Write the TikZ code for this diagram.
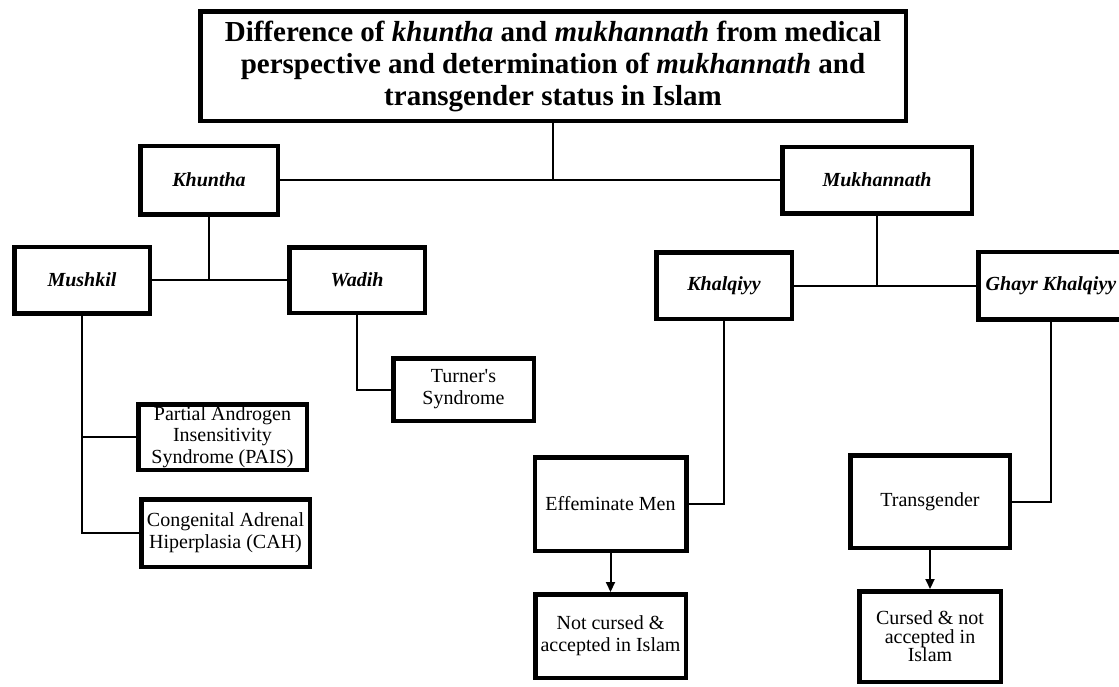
\documentclass[tikz,border=0pt]{standalone}
\usepackage{fontspec}
\setmainfont{Liberation Serif}
\usetikzlibrary{shadows,arrows.meta}
\begin{document}
\begin{tikzpicture}[x=1pt,y=-1pt,
  box/.style={draw, line width=4.5pt, fill=white, inner sep=0pt, align=center,
    font=\fontsize{20}{22}\selectfont,
    drop shadow={shadow xshift=1.5pt, shadow yshift=-1.5pt, fill=black!30, opacity=0.5}},
  lbl/.style={box, font=\fontsize{20}{22}\selectfont\bfseries\itshape},
  titlebox/.style={box, font=\fontsize{29}{32}\selectfont\bfseries},
  link/.style={line width=2pt},
  arr/.style={link, -{Triangle[length=10pt,width=9pt]}}]
\useasboundingbox (0,0) rectangle (1119,686);
\fill[white] (0,0) rectangle (1119,686);

\node[titlebox, minimum width=705.5pt, minimum height=109.5pt] (title) at (553,66)
  {Difference of \textit{khuntha} and \textit{mukhannath} from medical\\
   perspective and determination of \textit{mukhannath} and\\
   transgender status in Islam};

\node[lbl, minimum width=137.5pt, minimum height=68.5pt] (khuntha) at (209,180) {Khuntha};
\node[lbl, minimum width=189.5pt, minimum height=66.5pt] (mukh) at (877,180) {Mukhannath};

\node[lbl, minimum width=135.5pt, minimum height=66.5pt] (mushkil) at (82,280) {Mushkil};
\node[lbl, minimum width=135.5pt, minimum height=65.5pt] (wadih) at (357,280) {Wadih};

\node[box, minimum width=140.5pt, minimum height=62.5pt] (turner) at (463.5,389.5) {Turner\textquotesingle s\\Syndrome};
\node[box, minimum width=168.5pt, minimum height=65.5pt, font=\fontsize{20}{21.5}\selectfont] (pais) at (222.5,437) {Partial Androgen\\Insensitivity\\Syndrome (PAIS)};
\node[box, minimum width=168.5pt, minimum height=67.5pt] (cah) at (225.5,533) {Congenital Adrenal\\Hiperplasia (CAH)};

\node[lbl, minimum width=135.5pt, minimum height=66.5pt] (khal) at (724,285.5) {Khalqiyy};
\node[lbl, minimum width=145.5pt, minimum height=67.5pt] (ghayr) at (1051,285.5) {Ghayr Khalqiyy};

\node[box, minimum width=151.5pt, minimum height=93.5pt] (eff) at (610.5,504) {Effeminate Men};
\node[box, minimum width=150.5pt, minimum height=83.5pt] (notc) at (610.5,636) {Not cursed \&\\accepted in Islam};

\node[box, minimum width=159.5pt, minimum height=92.5pt] (trans) at (930,501.5) {Transgender};
\node[box, minimum width=141.5pt, minimum height=90.5pt, font=\fontsize{20}{18.5}\selectfont] (cursed) at (930,636.5) {Cursed \& not\\accepted in\\Islam};

\coordinate (j0) at (title.south |- khuntha.east);
\draw[link] (title.south) -- (j0);
\draw[link] (khuntha.east) -- (mukh.west);

\draw[link] (khuntha.south) -- (khuntha.south |- mushkil.east);
\draw[link] (mushkil.east) -- (wadih.west);

\draw[link] (mushkil.south) |- (cah.west);
\draw[link] (mushkil.south |- pais.west) -- (pais.west);

\draw[link] (wadih.south) |- (turner.west);

\draw[link] (mukh.south) -- (mukh.south |- khal.east);
\draw[link] (khal.east) -- (ghayr.west);

\draw[link] (khal.south) |- (eff.east);
\draw[link] (ghayr.south) |- (trans.east);

\draw[arr] (eff.south) -- (notc.north);
\draw[arr] (trans.south) -- (cursed.north);
\end{tikzpicture}
\end{document}
